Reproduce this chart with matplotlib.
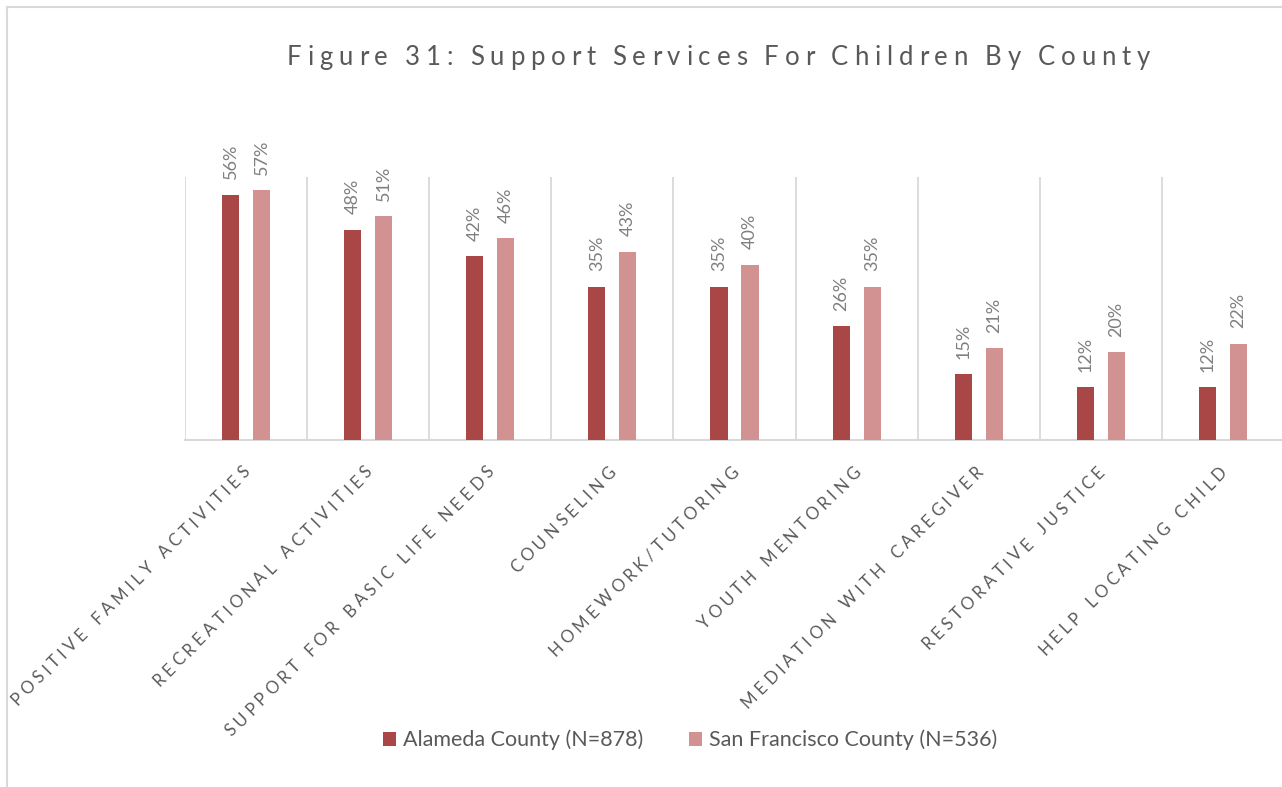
import matplotlib
matplotlib.use("Agg")
import matplotlib.pyplot as plt
from matplotlib.lines import Line2D
from matplotlib.patches import Patch
from matplotlib.font_manager import FontProperties, findfont
from matplotlib.ft2font import FT2Font
import numpy as np

categories = ["POSITIVE FAMILY ACTIVITIES", "RECREATIONAL ACTIVITIES", "SUPPORT FOR BASIC LIFE NEEDS",
              "COUNSELING", "HOMEWORK/TUTORING", "YOUTH MENTORING", "MEDIATION WITH CAREGIVER",
              "RESTORATIVE JUSTICE", "HELP LOCATING CHILD"]
alameda = [56, 48, 42, 35, 35, 26, 15, 12, 12]
sanfran = [57, 51, 46, 43, 40, 35, 21, 20, 22]
series_names = ["Alameda County (N=878)", "San Francisco County (N=536)"]
title = "Figure 31: Support Services For Children By County"

C_ALA = "#A94646"
C_SF = "#D39292"
GRID = "#D9D9D9"
TXT = "#595959"
FONT = ["Lato", "DejaVu Sans"]
DPI = 100
W, H = 1282, 787


def advances(s, size, word_extra=0.0):
    ft = FT2Font(findfont(FontProperties(family="Lato")))
    ft.set_size(size, DPI)
    out = []
    for ch in s:
        g = ft.load_char(ord(ch))
        w = g.linearHoriAdvance / 65536.0
        if ch == " ":
            w += word_extra
        out.append(w)
    return out


def fit_spacing(s, size, target, word_extra=0.0):
    adv = advances(s, size, word_extra)
    return (target - sum(adv)) / (len(s) - 1)


def spaced_text(fig, s, end_px=None, start_px=None, size=12, sp=3.0, word_extra=0.0,
                angle=0.0, color=TXT):
    """Place characters one by one with extra letter spacing (pixels, y from top)."""
    adv = advances(s, size, word_extra)
    total = sum(adv) + sp * (len(s) - 1)
    a = np.deg2rad(angle)
    d = np.array([np.cos(a), np.sin(a)])  # display coords, y up
    if end_px is not None:
        ex, ey = end_px
        start = np.array([ex, H - ey]) - d * total
    else:
        sx, sy = start_px
        start = np.array([sx, H - sy])
    pos = 0.0
    for ch, w in zip(s, adv):
        if ch != " ":
            p = start + d * pos
            fig.text(p[0] / W, p[1] / H, ch, rotation=angle, rotation_mode="anchor",
                     ha="left", va="baseline", fontsize=size, color=color, family=FONT)
        pos += w + sp
    return total


fig = plt.figure(figsize=(W / DPI, H / DPI), dpi=DPI)
ax = fig.add_axes([185 / W, 1 - 440 / H, (1284 - 185) / W, (440 - 177) / H])

x = np.arange(len(categories))
bw = 0.14
off = 0.127
b1 = ax.bar(x - off, alameda, bw, color=C_ALA, zorder=3)
b2 = ax.bar(x + off, sanfran, bw, color=C_SF, zorder=3)

ax.set_xlim(-0.5, len(categories) - 0.5)
ax.set_ylim(0, 60)
for g in np.arange(-0.5, len(categories), 1.0):
    ax.axvline(g, color=GRID, lw=1.3, zorder=1)
for s in ["top", "right", "left"]:
    ax.spines[s].set_visible(False)
ax.spines["bottom"].set_color(GRID)
ax.spines["bottom"].set_linewidth(1.5)
ax.set_yticks([])
ax.set_xticks(x)
ax.set_xticklabels([])
ax.tick_params(axis="x", length=0)

for bars, vals in ((b1, alameda), (b2, sanfran)):
    for rect, v in zip(bars, vals):
        ax.annotate(f"{v}%", (rect.get_x() + rect.get_width() / 2, v), xytext=(0, 11),
                    textcoords="offset points", rotation=90, ha="center", va="bottom",
                    fontsize=13, color="#7F7F7F", family=FONT)

# category labels, rotated 45 degrees, ending just right of each category centre
fig.canvas.draw()
lsize, lword = 12.2, 2.0
lsp = fit_spacing(categories[0], lsize, 330, lword)
for xi, cat in zip(x, categories):
    cx_disp = ax.transData.transform((xi, 0))[0]
    spaced_text(fig, cat, end_px=(cx_disp + 5, 473), size=lsize, sp=lsp, word_extra=lword, angle=45)

# title, letter-spaced to the reference width
tsize, tword = 18.5, -1.5
tsp = fit_spacing(title, tsize, 863, tword)
spaced_text(fig, title, start_px=(287, 65), size=tsize, sp=tsp, word_extra=tword, angle=0)

handles = [Patch(facecolor=C_ALA), Patch(facecolor=C_SF)]
fig.legend(handles, series_names, loc="center", bbox_to_anchor=(690 / W, 1 - 740 / H), ncol=2,
           frameon=False, prop={"family": FONT, "size": 15.5}, labelcolor=TXT,
           handlelength=0.6, handleheight=0.6, handletextpad=0.35, columnspacing=2.1)

fig.add_artist(Line2D([7 / W, 7 / W], [0, 1 - 7 / H], color=GRID, lw=1.5, transform=fig.transFigure))
fig.add_artist(Line2D([7 / W, 1], [1 - 7 / H, 1 - 7 / H], color=GRID, lw=1.5, transform=fig.transFigure))

fig.savefig("out.png", dpi=DPI)
